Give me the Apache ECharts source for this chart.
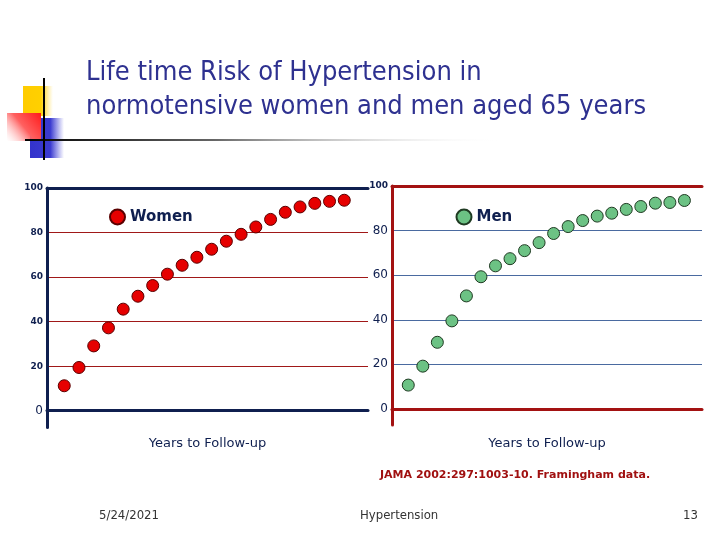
<!DOCTYPE html>
<html><head><meta charset="utf-8">
<script src="https://cdn.jsdelivr.net/npm/echarts@6/dist/echarts.min.js"></script>
<style>html,body{margin:0;padding:0;background:#fff}#c{width:720px;height:540px}</style>
</head><body><div id="c"></div>
<script>
var years = [1,2,3,4,5,6,7,8,9,10,11,12,13,14,15,16,17,18,19,20];
var womenRisk = [11.2,19.4,29.1,37.2,45.6,51.4,56.2,61.3,65.3,68.9,72.5,76.1,79.2,82.5,85.9,89.1,91.5,93.1,94.0,94.5];
var menRisk = [10.7,19.2,29.9,39.5,50.7,59.3,64.2,67.4,71.0,74.6,78.7,81.8,84.5,86.5,87.8,89.5,90.8,92.3,92.6,93.5];
var yTicks = [0,20,40,60,80,100];
var titleLines = ['Life time Risk of Hypertension in','normotensive women and men aged 65 years'];
var xName = 'Years to Follow-up';
var citation = 'JAMA 2002:297:1003-10. Framingham data.';
var footer = ['5/24/2021','Hypertension','13'];

function pairs(xs, ys){ return xs.map(function(x,i){return [x, ys[i]];}); }

var navy = '#0f1f4f';
var chart = echarts.init(document.getElementById('c'), null, {renderer:'canvas'});

function yAxisCfg(gridIndex, min, lineColor, gridColor, smallSet){
  return {
    type:'value', gridIndex:gridIndex, min:min, max:100,
    axisLine:{show:true, onZero:false, lineStyle:{color:lineColor, width:3}},
    axisTick:{show:false, customValues:yTicks},
    axisLabel:{show:true, customValues:yTicks, margin:4,
      formatter:function(v){ return smallSet.indexOf(v)>=0 ? '{s|'+v+'}' : '{b|'+v+'}'; },
      rich:{
        s:{fontFamily:'DejaVu Sans', fontWeight:'bold', fontSize:9, color:navy},
        b:{fontFamily:'DejaVu Sans', fontSize:12, color:navy}
      }},
    splitLine:{show:true, lineStyle:{color:gridColor, width:1}}
  };
}

var option = {
  backgroundColor:'#ffffff',
  animation:false,
  grid:[
    {left:47, top:188, width:321, height:239.4},
    {left:392, top:186, width:310, height:239}
  ],
  xAxis:[
    {type:'value', gridIndex:0, min:-0.17, max:21.61, axisLine:{onZero:true, lineStyle:{color:navy, width:3}}, axisTick:{show:false}, axisLabel:{show:false}, splitLine:{show:false},
     name:xName, nameLocation:'middle', nameGap:10, nameTextStyle:{fontFamily:'DejaVu Sans', fontSize:13, color:navy}},
    {type:'value', gridIndex:0, position:'top', min:-0.17, max:21.61, axisLine:{onZero:false, lineStyle:{color:navy, width:3}}, axisTick:{show:false}, axisLabel:{show:false}, splitLine:{show:false}},
    {type:'value', gridIndex:1, min:-0.12, max:21.21, axisLine:{onZero:true, lineStyle:{color:'#a31212', width:3}}, axisTick:{show:false}, axisLabel:{show:false}, splitLine:{show:false},
     name:xName, nameLocation:'middle', nameGap:12, nameTextStyle:{fontFamily:'DejaVu Sans', fontSize:13, color:navy}},
    {type:'value', gridIndex:1, position:'top', min:-0.12, max:21.21, axisLine:{onZero:false, lineStyle:{color:'#a31212', width:3}}, axisTick:{show:false}, axisLabel:{show:false}, splitLine:{show:false}}
  ],
  yAxis:[
    yAxisCfg(0, -7.5, navy, '#a01818', [20,40,60,80,100]),
    yAxisCfg(1, -7.2, '#a31212', '#4a6aa0', [100])
  ],
  legend:[
    {data:['Women'], left:104, top:203.5, icon:'circle', itemWidth:15, itemHeight:15,
     textStyle:{fontFamily:'DejaVu Sans', fontWeight:'bold', fontSize:15, color:navy}},
    {data:['Men'], left:450.5, top:203.5, icon:'circle', itemWidth:15, itemHeight:15,
     textStyle:{fontFamily:'DejaVu Sans', fontWeight:'bold', fontSize:15, color:navy}}
  ],
  series:[
    {name:'Women', type:'scatter', xAxisIndex:0, yAxisIndex:0, data:pairs(years, womenRisk), symbolSize:12,
     itemStyle:{color:'#e60000', borderColor:'#5a0000', borderWidth:1, opacity:1}},
    {name:'Men', type:'scatter', xAxisIndex:2, yAxisIndex:1, data:pairs(years, menRisk), symbolSize:12,
     itemStyle:{color:'#6cc284', borderColor:'#1f3a22', borderWidth:1, opacity:1}}
  ],
  graphic:[
    {type:'rect', shape:{x:23,y:86,width:30,height:30}, style:{fill:new echarts.graphic.LinearGradient(0,0,1,0,[{offset:0,color:'#ffcc00'},{offset:0.6,color:'#ffd000'},{offset:1,color:'rgba(255,220,80,0)'}])}, z:1},
    {type:'rect', shape:{x:30,y:118,width:34,height:40}, style:{fill:new echarts.graphic.LinearGradient(0,0,1,0,[{offset:0,color:'#3333cc'},{offset:0.6,color:'#3b3bd0'},{offset:1,color:'rgba(80,80,220,0)'}])}, z:2},
    {type:'rect', shape:{x:7,y:113,width:34,height:28}, style:{fill:new echarts.graphic.LinearGradient(1,0,0,1,[{offset:0,color:'#ff1a1a'},{offset:0.5,color:'#ff6060'},{offset:1,color:'rgba(255,200,200,0)'}])}, z:3},
    {type:'line', shape:{x1:25,y1:140,x2:500,y2:140}, style:{lineWidth:2, stroke:new echarts.graphic.LinearGradient(0,0,1,0,[{offset:0,color:'#000'},{offset:0.4,color:'#666'},{offset:1,color:'rgba(255,255,255,0)'}])}, z:4},
    {type:'line', shape:{x1:44,y1:78,x2:44,y2:160}, style:{lineWidth:2, stroke:'#000'}, z:5},
    {type:'text', left:86, top:56, style:{text:titleLines.join('\n'), font:'27px "DejaVu Sans Condensed", "DejaVu Sans"', fill:'#2e3190', lineHeight:34}},
    {type:'text', left:380, top:470, style:{text:citation, font:'bold 11px "DejaVu Sans"', fill:'#a01010'}},
    {type:'text', left:99, top:509, style:{text:footer[0], font:'13px "DejaVu Sans Condensed", "DejaVu Sans"', fill:'#333'}},
    {type:'text', left:360, top:509, style:{text:footer[1], font:'13px "DejaVu Sans Condensed", "DejaVu Sans"', fill:'#333'}},
    {type:'text', left:683, top:509, style:{text:footer[2], font:'13px "DejaVu Sans Condensed", "DejaVu Sans"', fill:'#333'}}
  ]
};
chart.setOption(option);
</script></body></html>
